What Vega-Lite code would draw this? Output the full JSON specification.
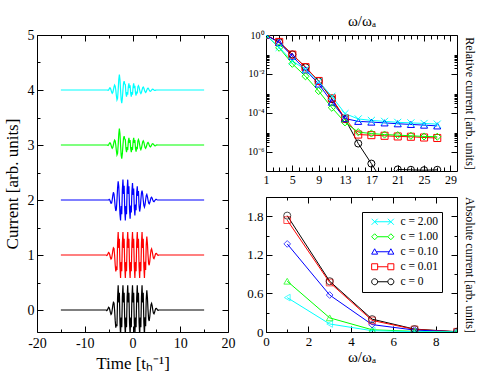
{
"$schema": "https://vega.github.io/schema/vega-lite/v6.json",
"background": "white",
"padding": {"left": 2, "top": 13, "right": 0, "bottom": 0},
"autosize": {"type": "pad"},
"datasets": {
"pulse": [
{"t":-15,"c0":0,"c1":1,"c2":2,"c3":3,"c4":4},
{"t":-5.5,"c0":0,"c1":1,"c2":2,"c3":3,"c4":4},
{"t":-5.375,"c0":-0.011,"c1":0.99,"c2":2,"c3":3,"c4":4},
{"t":-5.25,"c0":0,"c1":1,"c2":2,"c3":3,"c4":4},
{"t":-5.125,"c0":0.028,"c1":1.026,"c2":2,"c3":2.99,"c4":3.993},
{"t":-5,"c0":0.05,"c1":1.047,"c2":2,"c3":3,"c4":4},
{"t":-4.875,"c0":0.039,"c1":1.036,"c2":2.011,"c3":3.025,"c4":4.021},
{"t":-4.75,"c0":0,"c1":1,"c2":2,"c3":3.04,"c4":4.04},
{"t":-4.625,"c0":-0.049,"c1":0.954,"c2":1.969,"c3":3.032,"c4":4.032},
{"t":-4.5,"c0":-0.08,"c1":0.926,"c2":1.94,"c3":3,"c4":4},
{"t":-4.375,"c0":-0.063,"c1":0.941,"c2":1.944,"c3":2.962,"c4":3.962},
{"t":-4.25,"c0":0,"c1":1,"c2":2,"c3":2.94,"c4":3.94},
{"t":-4.125,"c0":0.084,"c1":1.078,"c2":2.084,"c3":2.955,"c4":3.955},
{"t":-4,"c0":0.14,"c1":1.13,"c2":2.14,"c3":3,"c4":4},
{"t":-3.875,"c0":0.126,"c1":1.117,"c2":2.105,"c3":3.056,"c4":4.056},
{"t":-3.75,"c0":0,"c1":1,"c2":2,"c3":3.09,"c4":4.09},
{"t":-3.625,"c0":-0.189,"c1":0.824,"c2":1.874,"c3":3.074,"c4":4.07},
{"t":-3.5,"c0":-0.32,"c1":0.702,"c2":1.8,"c3":3,"c4":4},
{"t":-3.375,"c0":-0.259,"c1":0.759,"c2":1.832,"c3":2.895,"c4":3.895},
{"t":-3.25,"c0":-0.294,"c1":0.727,"c2":2,"c3":2.82,"c4":3.82},
{"t":-3.125,"c0":0.22,"c1":1.205,"c2":2.217,"c3":2.846,"c4":3.846},
{"t":-3,"c0":0.45,"c1":1.419,"c2":2.34,"c3":3,"c4":4},
{"t":-2.875,"c0":0.135,"c1":1.126,"c2":2.249,"c3":3.196,"c4":4.189},
{"t":-2.75,"c0":0.315,"c1":1.293,"c2":2,"c3":3.3,"c4":4.28},
{"t":-2.625,"c0":-0.225,"c1":0.791,"c2":1.741,"c3":3.203,"c4":4.189},
{"t":-2.5,"c0":-0.45,"c1":0.581,"c2":1.63,"c3":3,"c4":4},
{"t":-2.375,"c0":-0.135,"c1":0.874,"c2":1.889,"c3":2.814,"c4":3.825},
{"t":-2.25,"c0":-0.315,"c1":0.707,"c2":1.741,"c3":2.75,"c4":3.76},
{"t":-2.125,"c0":0.225,"c1":1.209,"c2":2.185,"c3":2.842,"c4":3.846},
{"t":-2,"c0":0.45,"c1":1.419,"c2":2.37,"c3":3,"c4":4},
{"t":-1.875,"c0":0.135,"c1":1.126,"c2":2.111,"c3":3.126,"c4":4.126},
{"t":-1.75,"c0":0.315,"c1":1.293,"c2":2.259,"c3":3.16,"c4":4.16},
{"t":-1.625,"c0":-0.225,"c1":0.791,"c2":1.815,"c3":3.105,"c4":4.105},
{"t":-1.5,"c0":-0.45,"c1":0.581,"c2":1.63,"c3":3.098,"c4":4.098},
{"t":-1.375,"c0":-0.135,"c1":0.874,"c2":1.889,"c3":2.932,"c4":3.935},
{"t":-1.25,"c0":-0.315,"c1":0.707,"c2":1.741,"c3":2.87,"c4":3.88},
{"t":-1.125,"c0":0.225,"c1":1.209,"c2":2.185,"c3":2.961,"c4":3.964},
{"t":-1,"c0":0.45,"c1":1.419,"c2":2.37,"c3":2.909,"c4":3.916},
{"t":-0.875,"c0":0.135,"c1":1.126,"c2":2.108,"c3":3.065,"c4":4.06},
{"t":-0.75,"c0":0.315,"c1":1.293,"c2":2.249,"c3":3.13,"c4":4.12},
{"t":-0.625,"c0":-0.225,"c1":0.791,"c2":1.825,"c3":3.039,"c4":4.036},
{"t":-0.5,"c0":-0.45,"c1":0.581,"c2":1.66,"c3":3.091,"c4":4.084},
{"t":-0.375,"c0":-0.135,"c1":0.874,"c2":1.901,"c3":2.935,"c4":3.94},
{"t":-0.25,"c0":-0.315,"c1":0.707,"c2":1.772,"c3":2.87,"c4":3.88},
{"t":-0.125,"c0":0.225,"c1":1.209,"c2":2.16,"c3":2.961,"c4":3.964},
{"t":0,"c0":0.45,"c1":1.419,"c2":2.31,"c3":2.909,"c4":3.916},
{"t":0.125,"c0":0.135,"c1":1.126,"c2":2.09,"c3":3.065,"c4":4.06},
{"t":0.25,"c0":0.315,"c1":1.293,"c2":2.207,"c3":3.13,"c4":4.12},
{"t":0.375,"c0":-0.225,"c1":0.791,"c2":1.855,"c3":3.039,"c4":4.035},
{"t":0.5,"c0":-0.45,"c1":0.581,"c2":1.72,"c3":3.091,"c4":4.077},
{"t":0.625,"c0":-0.135,"c1":0.874,"c2":1.919,"c3":2.937,"c4":3.947},
{"t":0.75,"c0":-0.315,"c1":0.707,"c2":1.814,"c3":2.88,"c4":3.9},
{"t":0.875,"c0":0.225,"c1":1.209,"c2":2.13,"c3":2.965,"c4":3.971},
{"t":1,"c0":0.45,"c1":1.419,"c2":2.25,"c3":2.923,"c4":3.937},
{"t":1.125,"c0":0.135,"c1":1.126,"c2":2.072,"c3":3.074,"c4":4.06},
{"t":1.25,"c0":0.315,"c1":1.293,"c2":2.161,"c3":3.1,"c4":4.08},
{"t":1.375,"c0":-0.225,"c1":0.791,"c2":1.89,"c3":3.067,"c4":4.053},
{"t":1.5,"c0":-0.45,"c1":0.581,"c2":1.79,"c3":3,"c4":4},
{"t":1.625,"c0":-0.135,"c1":0.874,"c2":1.86,"c3":2.938,"c4":3.952},
{"t":1.75,"c0":-0.315,"c1":0.707,"c2":2,"c3":2.915,"c4":3.935},
{"t":1.875,"c0":0.225,"c1":1.209,"c2":2.126,"c3":2.942,"c4":3.956},
{"t":2,"c0":0.45,"c1":1.419,"c2":2.17,"c3":3,"c4":4},
{"t":2.125,"c0":0.135,"c1":1.126,"c2":2.112,"c3":3.055,"c4":4.041},
{"t":2.25,"c0":0.315,"c1":1.293,"c2":2,"c3":3.075,"c4":4.055},
{"t":2.375,"c0":-0.225,"c1":0.791,"c2":1.902,"c3":3.051,"c4":4.037},
{"t":2.5,"c0":-0.45,"c1":0.581,"c2":1.87,"c3":3,"c4":4},
{"t":2.625,"c0":-0.132,"c1":0.877,"c2":1.916,"c3":2.954,"c4":3.967},
{"t":2.75,"c0":-0.294,"c1":0.727,"c2":2,"c3":2.94,"c4":3.955},
{"t":2.875,"c0":0.195,"c1":1.181,"c2":2.077,"c3":2.961,"c4":3.97},
{"t":3,"c0":0.36,"c1":1.335,"c2":2.1,"c3":3,"c4":4},
{"t":3.125,"c0":0.224,"c1":1.208,"c2":2.063,"c3":3.034,"c4":4.026},
{"t":3.25,"c0":0,"c1":1,"c2":2,"c3":3.045,"c4":4.035},
{"t":3.375,"c0":-0.168,"c1":0.844,"c2":1.944,"c3":3.03,"c4":4.023},
{"t":3.5,"c0":-0.2,"c1":0.814,"c2":1.93,"c3":3,"c4":4},
{"t":3.625,"c0":-0.119,"c1":0.889,"c2":1.954,"c3":2.974,"c4":3.98},
{"t":3.75,"c0":0,"c1":1,"c2":2,"c3":2.965,"c4":3.975},
{"t":3.875,"c0":0.095,"c1":1.088,"c2":2.039,"c3":2.977,"c4":3.984},
{"t":4,"c0":0.12,"c1":1.112,"c2":2.05,"c3":3,"c4":4},
{"t":4.125,"c0":0.074,"c1":1.068,"c2":2.032,"c3":3.02,"c4":4.013},
{"t":4.25,"c0":0,"c1":1,"c2":2,"c3":3.025,"c4":4.015},
{"t":4.375,"c0":-0.056,"c1":0.948,"c2":1.975,"c3":3.016,"c4":4.009},
{"t":4.5,"c0":-0.07,"c1":0.935,"c2":1.97,"c3":3,"c4":4},
{"t":4.625,"c0":-0.042,"c1":0.961,"c2":1.982,"c3":2.987,"c4":3.994},
{"t":4.75,"c0":0,"c1":1,"c2":2,"c3":2.985,"c4":3.994},
{"t":4.875,"c0":0.028,"c1":1.026,"c2":2.011,"c3":2.991,"c4":3.997},
{"t":5,"c0":0.03,"c1":1.028,"c2":2.01,"c3":3,"c4":4},
{"t":5.125,"c0":0.018,"c1":1.016,"c2":2.004,"c3":3.004,"c4":4},
{"t":5.25,"c0":0,"c1":1,"c2":2,"c3":3,"c4":4},
{"t":5.375,"c0":-0.007,"c1":0.993,"c2":2,"c3":3,"c4":4},
{"t":5.5,"c0":0,"c1":1,"c2":2,"c3":3,"c4":4},
{"t":15,"c0":0,"c1":1,"c2":2,"c3":3,"c4":4}
],
"rel": [
{"s":"c = 0","w":1,"v":1},{"s":"c = 0","w":3,"v":0.43},{"s":"c = 0","w":5,"v":0.1},{"s":"c = 0","w":7,"v":0.022},{"s":"c = 0","w":9,"v":0.0042},{"s":"c = 0","w":11,"v":0.0005},{"s":"c = 0","w":13,"v":0.000048},{"s":"c = 0","w":15,"v":0.0000026},{"s":"c = 0","w":17,"v":0.00000024},{"s":"c = 0","w":19,"v":0.00000002},{"s":"c = 0","w":21,"v":0.00000012},{"s":"c = 0","w":23,"v":0.000000115},{"s":"c = 0","w":25,"v":0.00000011},{"s":"c = 0","w":27,"v":0.000000115},
{"s":"c = 0.01","w":1,"v":1},{"s":"c = 0.01","w":3,"v":0.44},{"s":"c = 0.01","w":5,"v":0.098},{"s":"c = 0.01","w":7,"v":0.022},{"s":"c = 0.01","w":9,"v":0.0043},{"s":"c = 0.01","w":11,"v":0.00055},{"s":"c = 0.01","w":13,"v":0.00005},{"s":"c = 0.01","w":15,"v":0.0000075},{"s":"c = 0.01","w":17,"v":0.000007},{"s":"c = 0.01","w":19,"v":0.0000065},{"s":"c = 0.01","w":21,"v":0.000006},{"s":"c = 0.01","w":23,"v":0.0000058},{"s":"c = 0.01","w":25,"v":0.0000053},{"s":"c = 0.01","w":27,"v":0.000005},
{"s":"c = 0.10","w":1,"v":1},{"s":"c = 0.10","w":3,"v":0.41},{"s":"c = 0.10","w":5,"v":0.08},{"s":"c = 0.10","w":7,"v":0.016},{"s":"c = 0.10","w":9,"v":0.003},{"s":"c = 0.10","w":11,"v":0.00035},{"s":"c = 0.10","w":13,"v":0.00005},{"s":"c = 0.10","w":15,"v":0.000036},{"s":"c = 0.10","w":17,"v":0.000033},{"s":"c = 0.10","w":19,"v":0.00003},{"s":"c = 0.10","w":21,"v":0.000027},{"s":"c = 0.10","w":23,"v":0.000025},{"s":"c = 0.10","w":25,"v":0.000023},{"s":"c = 0.10","w":27,"v":0.000021},
{"s":"c = 1.00","w":1,"v":1},{"s":"c = 1.00","w":3,"v":0.22},{"s":"c = 1.00","w":5,"v":0.033},{"s":"c = 1.00","w":7,"v":0.0075},{"s":"c = 1.00","w":9,"v":0.0013},{"s":"c = 1.00","w":11,"v":0.00018},{"s":"c = 1.00","w":13,"v":0.000032},{"s":"c = 1.00","w":15,"v":0.00001},{"s":"c = 1.00","w":17,"v":0.0000085},{"s":"c = 1.00","w":19,"v":0.0000075},{"s":"c = 1.00","w":21,"v":0.000007},{"s":"c = 1.00","w":23,"v":0.0000065},{"s":"c = 1.00","w":25,"v":0.000006},{"s":"c = 1.00","w":27,"v":0.0000058},
{"s":"c = 2.00","w":1,"v":1},{"s":"c = 2.00","w":3,"v":0.23},{"s":"c = 2.00","w":5,"v":0.045},{"s":"c = 2.00","w":7,"v":0.017},{"s":"c = 2.00","w":9,"v":0.004},{"s":"c = 2.00","w":11,"v":0.0007},{"s":"c = 2.00","w":13,"v":0.00009},{"s":"c = 2.00","w":15,"v":0.000048},{"s":"c = 2.00","w":17,"v":0.00004},{"s":"c = 2.00","w":19,"v":0.000036},{"s":"c = 2.00","w":21,"v":0.000032},{"s":"c = 2.00","w":23,"v":0.00003},{"s":"c = 2.00","w":25,"v":0.000028},{"s":"c = 2.00","w":27,"v":0.000026}
],
"abs": [
{"s":"c = 0","w":1,"v":1.81},{"s":"c = 0","w":3,"v":0.79},{"s":"c = 0","w":5,"v":0.2},{"s":"c = 0","w":7,"v":0.045},{"s":"c = 0","w":9,"v":0.005},
{"s":"c = 0.01","w":1,"v":1.74},{"s":"c = 0.01","w":3,"v":0.77},{"s":"c = 0.01","w":5,"v":0.18},{"s":"c = 0.01","w":7,"v":0.04},{"s":"c = 0.01","w":9,"v":0.004},
{"s":"c = 0.10","w":1,"v":1.37},{"s":"c = 0.10","w":3,"v":0.575},{"s":"c = 0.10","w":5,"v":0.115},{"s":"c = 0.10","w":7,"v":0.03},{"s":"c = 0.10","w":9,"v":0.003},
{"s":"c = 1.00","w":1,"v":0.79},{"s":"c = 1.00","w":3,"v":0.22},{"s":"c = 1.00","w":5,"v":0.035},{"s":"c = 1.00","w":7,"v":0.01},{"s":"c = 1.00","w":9,"v":0.001},
{"s":"c = 2.00","w":1,"v":0.535},{"s":"c = 2.00","w":3,"v":0.125},{"s":"c = 2.00","w":5,"v":0.02},{"s":"c = 2.00","w":7,"v":0.006},{"s":"c = 2.00","w":9,"v":0.001}
]
},
"hconcat": [
{
"width": 191, "height": 297,
"data": {"name": "pulse"},
"transform": [{"fold": ["c0","c1","c2","c3","c4"], "as": ["k","v"]}],
"layer": [
{"mark": {"type": "line", "strokeWidth": 1.2, "clip": true},
 "encoding": {
  "x": {"field": "t", "type": "quantitative", "scale": {"domain": [-20,20], "nice": false, "zero": false},
        "axis": {"orient": "bottom", "values": [-20,-15,-10,-5,0,5,10,15,20], "labelExpr": "datum.value % 10 === 0 ? '' + datum.value : ''",
                 "tickSize": {"condition": {"test": "datum.value % 10 === 0", "value": -6}, "value": -3},
                 "labelFont": "Liberation Serif", "labelPadding": 10, "labelFontSize": 14, "title": "Time  [tₕ⁻¹]", "titleFontSize": 17, "titlePadding": 5}},
  "y": {"field": "v", "type": "quantitative", "scale": {"domain": [-0.4,5], "nice": false, "zero": false},
        "axis": {"orient": "left", "values": [0,0.5,1,1.5,2,2.5,3,3.5,4,4.5,5], "labelExpr": "datum.value % 1 === 0 ? '' + datum.value : ''",
                 "tickSize": {"condition": {"test": "datum.value % 1 === 0", "value": -6}, "value": -3},
                 "labelFont": "Liberation Serif", "labelPadding": 9, "labelFontSize": 14, "title": "Current [arb. units]", "titleFontSize": 17, "titlePadding": 6}},
  "color": {"field": "k", "type": "nominal", "scale": {"domain": ["c0","c1","c2","c3","c4"], "range": ["#000000","#ff0000","#0000ff","#00ff00","#00ffff"]}, "legend": null}
 }},
{"mark": {"type": "line", "opacity": 0},
 "encoding": {
  "x": {"field": "t", "type": "quantitative",
        "axis": {"orient": "top", "values": [-20,-15,-10,-5,0,5,10,15,20], "labels": false, "title": null,
                 "tickSize": {"condition": {"test": "datum.value % 10 === 0", "value": -6}, "value": -3}}},
  "y": {"field": "v", "type": "quantitative",
        "axis": {"orient": "right", "values": [0,0.5,1,1.5,2,2.5,3,3.5,4,4.5,5], "labels": false, "title": null,
                 "tickSize": {"condition": {"test": "datum.value % 1 === 0", "value": -6}, "value": -3}}},
  "detail": {"field": "k"}
 }}
],
"resolve": {"axis": {"x": "independent", "y": "independent"}}
},
{
"vconcat": [
{
"width": 191, "height": 136,
"data": {"name": "rel"},
"layer": [
{"mark": {"type": "line", "strokeWidth": 1, "clip": true},
 "encoding": {
  "x": {"field": "w", "type": "quantitative", "scale": {"domain": [1,30], "nice": false, "zero": false},
        "axis": {"orient": "bottom", "values": [1,2,3,4,5,6,7,8,9,10,11,12,13,14,15,16,17,18,19,20,21,22,23,24,25,26,27,28,29],
                 "labelExpr": "(datum.value - 1) % 4 === 0 ? '' + datum.value : ''",
                 "tickSize": {"condition": {"test": "(datum.value - 1) % 4 === 0", "value": -6}, "value": -4},
                 "labelFont": "Liberation Serif", "labelPadding": 9, "labelFontSize": 12, "title": null}},
  "y": {"field": "v", "type": "quantitative", "scale": {"type": "log", "domain": [0.0000001, 1], "nice": false},
        "axis": {"orient": "left", "values": [1,0.01,0.0001,0.000001,0.02,0.03,0.04,0.05,0.06,0.07,0.08,0.09,0.0002,0.0003,0.0004,0.0005,0.0006,0.0007,0.0008,0.0009,0.000002,0.000003,0.000004,0.000005,0.000006,0.000007,0.000008,0.000009],
                 "labelExpr": "datum.value === 1 ? '10⁰' : datum.value === 0.01 ? '10⁻²' : datum.value === 0.0001 ? '10⁻⁴' : datum.value === 0.000001 ? '10⁻⁶' : ''",
                 "tickSize": {"condition": {"test": "datum.value === 1 || datum.value === 0.01 || datum.value === 0.0001 || datum.value === 0.000001", "value": -6}, "value": -3},
                 "labelFont": "Liberation Serif", "labelPadding": 8, "labelFontSize": 10, "title": null}},
  "color": {"field": "s", "type": "nominal", "scale": {"domain": ["c = 2.00","c = 1.00","c = 0.10","c = 0.01","c = 0"], "range": ["#00ffff","#00ff00","#0000ff","#ff0000","#000000"]}, "legend": null}
 }},
{"mark": {"type": "point", "filled": false, "size": 50, "strokeWidth": 1, "clip": true, "opacity": 1},
 "encoding": {
  "x": {"field": "w", "type": "quantitative",
        "axis": {"orient": "top", "values": [1,2,3,4,5,6,7,8,9,10,11,12,13,14,15,16,17,18,19,20,21,22,23,24,25,26,27,28,29], "labels": false,
                 "tickSize": {"condition": {"test": "(datum.value - 1) % 4 === 0", "value": -6}, "value": -4},
                 "title": "ω/ωₐ", "titleFontSize": 15, "titlePadding": 6}},
  "y": {"field": "v", "type": "quantitative",
        "axis": {"orient": "right", "values": [1,0.01,0.0001,0.000001,0.02,0.03,0.04,0.05,0.06,0.07,0.08,0.09,0.0002,0.0003,0.0004,0.0005,0.0006,0.0007,0.0008,0.0009,0.000002,0.000003,0.000004,0.000005,0.000006,0.000007,0.000008,0.000009], "labels": false,
                 "tickSize": {"condition": {"test": "datum.value === 1 || datum.value === 0.01 || datum.value === 0.0001 || datum.value === 0.000001", "value": -6}, "value": -3},
                 "title": "Relative current [arb. units]", "titleFontSize": 12, "titlePadding": 5}},
  "color": {"field": "s", "type": "nominal", "legend": null},
  "shape": {"field": "s", "type": "nominal", "scale": {"domain": ["c = 2.00","c = 1.00","c = 0.10","c = 0.01","c = 0"], "range": ["M-1,-1L1,1M-1,1L1,-1","diamond","triangle-up","square","circle"]}, "legend": null}
 }}
],
"resolve": {"axis": {"x": "independent", "y": "independent"}}
},
{
"width": 191, "height": 135,
"data": {"name": "abs"},
"layer": [
{"mark": {"type": "line", "strokeWidth": 1, "clip": true},
 "encoding": {
  "x": {"field": "w", "type": "quantitative", "scale": {"domain": [0,9], "nice": false, "zero": false},
        "axis": {"orient": "bottom", "values": [0,1,2,3,4,5,6,7,8,9], "labelExpr": "datum.value % 2 === 0 ? '' + datum.value : ''",
                 "tickSize": {"condition": {"test": "datum.value % 2 === 0", "value": -6}, "value": -3},
                 "labelFont": "Liberation Serif", "labelPadding": 9, "labelFontSize": 13, "title": "ω/ωₐ", "titleFontSize": 15, "titlePadding": 1}},
  "y": {"field": "v", "type": "quantitative", "scale": {"domain": [0,2.1], "nice": false, "zero": false},
        "axis": {"orient": "left", "values": [0,0.3,0.6,0.9,1.2,1.5,1.8,2.1],
                 "labelExpr": "datum.value === 0 ? '0' : (datum.value === 0.6 || datum.value === 1.2 || datum.value === 1.8) ? format(datum.value, '.1f') : ''",
                 "tickSize": {"condition": {"test": "datum.value === 0 || datum.value === 0.6 || datum.value === 1.2 || datum.value === 1.8", "value": -6}, "value": -3},
                 "labelFont": "Liberation Serif", "labelPadding": 9, "labelFontSize": 13, "title": null}},
  "color": {"field": "s", "type": "nominal", "scale": {"domain": ["c = 2.00","c = 1.00","c = 0.10","c = 0.01","c = 0"], "range": ["#00ffff","#00ff00","#0000ff","#ff0000","#000000"]},
            "legend": {"title": null, "orient": "none", "legendX": 96, "legendY": 15, "strokeColor": "#000000", "fillColor": "#ffffff", "padding": 4, "symbolSize": 36, "symbolStrokeWidth": 1, "symbolOffset": 11, "labelOffset": 12, "labelFontSize": 11.5, "labelFont": "Liberation Serif", "rowPadding": 2, "symbolOpacity": 1}}
 }},
{"transform": [{"filter": "datum.s === 'c = 2.00'"}],
 "mark": {"type": "point", "shape": "triangle-left", "filled": false, "size": 45, "strokeWidth": 1, "clip": true},
 "encoding": {"x": {"field": "w", "type": "quantitative", "axis": null}, "y": {"field": "v", "type": "quantitative", "axis": null}, "color": {"field": "s", "type": "nominal", "legend": null}}},
{"transform": [{"filter": "datum.s === 'c = 1.00'"}],
 "mark": {"type": "point", "shape": "triangle-up", "filled": false, "size": 45, "strokeWidth": 1, "clip": true},
 "encoding": {"x": {"field": "w", "type": "quantitative", "axis": null}, "y": {"field": "v", "type": "quantitative", "axis": null}, "color": {"field": "s", "type": "nominal", "legend": null}}},
{"transform": [{"filter": "datum.s === 'c = 0.10'"}],
 "mark": {"type": "point", "shape": "diamond", "filled": false, "size": 45, "strokeWidth": 1, "clip": true},
 "encoding": {"x": {"field": "w", "type": "quantitative", "axis": null}, "y": {"field": "v", "type": "quantitative", "axis": null}, "color": {"field": "s", "type": "nominal", "legend": null}}},
{"transform": [{"filter": "datum.s === 'c = 0.01'"}],
 "mark": {"type": "point", "shape": "square", "filled": false, "size": 45, "strokeWidth": 1, "clip": true},
 "encoding": {"x": {"field": "w", "type": "quantitative", "axis": null}, "y": {"field": "v", "type": "quantitative", "axis": null}, "color": {"field": "s", "type": "nominal", "legend": null}}},
{"transform": [{"filter": "datum.s === 'c = 0'"}],
 "mark": {"type": "point", "shape": "circle", "filled": false, "size": 50, "strokeWidth": 1, "clip": true},
 "encoding": {"x": {"field": "w", "type": "quantitative", "axis": null}, "y": {"field": "v", "type": "quantitative", "axis": null}, "color": {"field": "s", "type": "nominal", "legend": null}}},
{"mark": {"type": "point", "filled": false, "opacity": 0},
 "encoding": {
  "x": {"field": "w", "type": "quantitative",
        "axis": {"orient": "top", "values": [0,1,2,3,4,5,6,7,8,9], "labels": false, "title": null,
                 "tickSize": {"condition": {"test": "datum.value % 2 === 0", "value": -6}, "value": -3}}},
  "y": {"field": "v", "type": "quantitative",
        "axis": {"orient": "right", "values": [0,0.3,0.6,0.9,1.2,1.5,1.8,2.1], "labels": false,
                 "tickSize": {"condition": {"test": "datum.value === 0 || datum.value === 0.6 || datum.value === 1.2 || datum.value === 1.8", "value": -6}, "value": -3},
                 "title": "Absolute current [arb. units]", "titleFontSize": 12, "titlePadding": 5}},
  "color": {"field": "s", "type": "nominal"},
  "shape": {"field": "s", "type": "nominal",
            "scale": {"domain": ["c = 2.00","c = 1.00","c = 0.10","c = 0.01","c = 0"],
                      "range": ["M-3.7,-1L-1.7,1M-3.7,1L-1.7,-1M1.7,-1L3.7,1M1.7,1L3.7,-1M-2.7,0L2.7,0",
                                "M-2.7,-1L-1.7,0L-2.7,1L-3.7,0ZM2.7,-1L3.7,0L2.7,1L1.7,0ZM-1.7,0L1.7,0",
                                "M-2.7,-1L-1.7,0.8L-3.7,0.8ZM2.7,-1L3.7,0.8L1.7,0.8ZM-2.15,0L2.15,0",
                                "M-3.7,-1H-1.7V1H-3.7ZM1.7,-1H3.7V1H1.7ZM-1.7,0H1.7",
                                "M-1.7,0A1,1,0,1,1,-3.7,0A1,1,0,1,1,-1.7,0ZM3.7,0A1,1,0,1,1,1.7,0A1,1,0,1,1,3.7,0ZM-1.7,0L1.7,0"]},
            "legend": {"title": null, "orient": "none", "legendX": 96, "legendY": 15, "strokeColor": "#000000", "fillColor": "#ffffff", "padding": 4, "symbolSize": 36, "symbolStrokeWidth": 1, "symbolOffset": 11, "labelOffset": 12, "labelFontSize": 11.5, "labelFont": "Liberation Serif", "rowPadding": 2, "symbolOpacity": 1}}
 }}
],
"resolve": {"axis": {"x": "independent", "y": "independent"}}
}
],
"spacing": 26,
"bounds": "flush",
"resolve": {"scale": {"color": "independent", "shape": "independent"}}
}
],
"spacing": 38,
"bounds": "flush",
"resolve": {"scale": {"color": "independent", "shape": "independent"}},
"config": {
  "font": "Liberation Serif",
  "view": {"stroke": "#000000", "strokeWidth": 1},
  "axis": {"domain": false, "grid": false, "labelFlush": false, "tickColor": "#000000", "tickWidth": 1, "labelColor": "#000000", "titleColor": "#000000", "titleFontWeight": "normal", "labelFont": "Liberation Serif", "titleFont": "Liberation Serif"},
  "legend": {"labelColor": "#000000"}
}
}
